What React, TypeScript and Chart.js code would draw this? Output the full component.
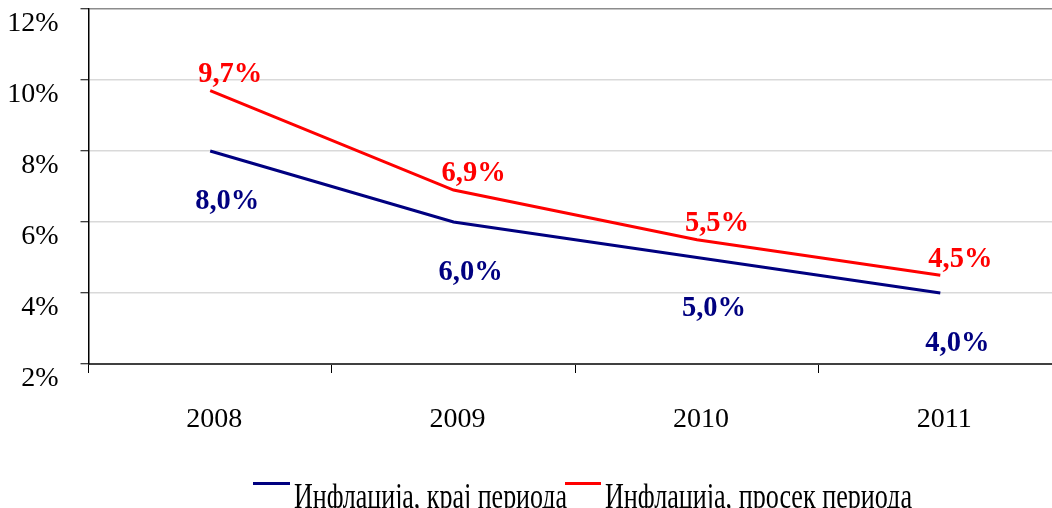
import React, { useEffect, useRef } from "react";
import { Chart, registerables } from "chart.js";

Chart.register(...registerables);

const categories = ["2008", "2009", "2010", "2011"];
const endOfPeriod = [8.0, 6.0, 5.0, 4.0];
const averageOfPeriod = [9.7, 6.9, 5.5, 4.5];
const yMin = 2;
const yMax = 12;
const yStep = 2;
const seriesNames = ["Инфлација, крај периода", "Инфлација, просек периода"];

const NAVY = "#000080";
const RED = "#ff0000";
const SERIF = '"Liberation Serif", "Times New Roman", serif';

const fmt = (v: number) => v.toFixed(1).replace(".", ",") + "%";

const dataLabelPlugin = {
  id: "dataLabels",
  afterDatasetsDraw(chart: any) {
    const ctx = chart.ctx;
    const offsets = [
      { dx: 17, dy: 51 },
      { dx: 20, dy: -16 },
    ];
    chart.data.datasets.forEach((ds: any, i: number) => {
      const meta = chart.getDatasetMeta(i);
      ctx.save();
      ctx.font = `bold 28.5px ${SERIF}`;
      ctx.fillStyle = ds.borderColor;
      ctx.textAlign = "center";
      ctx.textBaseline = "middle";
      meta.data.forEach((pt: any, j: number) => {
        ctx.fillText(fmt(ds.data[j]), pt.x + offsets[i].dx, pt.y + offsets[i].dy);
      });
      ctx.restore();
    });
  },
};

const legendPlugin = {
  id: "customLegend",
  afterDraw(chart: any) {
    const ctx = chart.ctx;
    const items = [
      { x0: 253, x1: 290, tx: 294, w: 273 },
      { x0: 565, x1: 601, tx: 605, w: 307 },
    ];
    const lineY = 483.5;
    const baseline = 507.5;
    chart.data.datasets.forEach((ds: any, i: number) => {
      const it = items[i];
      ctx.save();
      ctx.strokeStyle = ds.borderColor;
      ctx.lineWidth = 3;
      ctx.beginPath();
      ctx.moveTo(it.x0, lineY);
      ctx.lineTo(it.x1, lineY);
      ctx.stroke();
      ctx.font = `36px ${SERIF}`;
      ctx.fillStyle = "#000";
      ctx.textAlign = "left";
      ctx.textBaseline = "alphabetic";
      const w = ctx.measureText(ds.label).width;
      const sx = it.w / w;
      ctx.translate(it.tx, baseline);
      ctx.scale(sx, 1);
      ctx.fillText(ds.label, 0, 0);
      ctx.restore();
    });
  },
};

export default function App() {
  const ref = useRef<HTMLCanvasElement>(null);

  useEffect(() => {
    if (!ref.current) return;
    const chart = new Chart(ref.current, {
      type: "line",
      data: {
        labels: categories,
        datasets: [
          {
            label: seriesNames[0],
            data: endOfPeriod,
            borderColor: NAVY,
            backgroundColor: NAVY,
            borderWidth: 3,
            pointRadius: 0,
            tension: 0,
          },
          {
            label: seriesNames[1],
            data: averageOfPeriod,
            borderColor: RED,
            backgroundColor: RED,
            borderWidth: 3,
            pointRadius: 0,
            tension: 0,
          },
        ],
      },
      options: {
        responsive: false,
        animation: false,
        devicePixelRatio: 1,
        layout: { padding: { left: 0, right: 8, top: 9, bottom: 0 } },
        plugins: {
          legend: { display: false },
          tooltip: { enabled: false },
          title: { display: false },
        },
        scales: {
          x: {
            type: "category",
            offset: true,
            grid: {
              offset: true,
              drawOnChartArea: false,
              drawTicks: true,
              tickLength: 9,
              tickColor: "#000",
              tickWidth: 1,
            },
            border: { display: true, color: "#404040", width: 2 },
            ticks: {
              color: "#000",
              font: { family: SERIF, size: 28 },
              padding: 30,
              labelOffset: 4,
              maxRotation: 0,
            },
            afterFit(scale: any) {
              scale.height = 508 - 364;
              scale.paddingLeft = 0;
              scale.paddingRight = 0;
            },
          },
          y: {
            type: "linear",
            min: yMin,
            max: yMax,
            grid: {
              color: (c: any) => (c.tick && c.tick.value === yMax ? "#8c8c8c" : "#d9d9d9"),
              lineWidth: 1.5,
              drawTicks: true,
              tickLength: 8,
              tickColor: "#000",
              tickWidth: 1,
            },
            border: { display: true, color: "#000", width: 1.5 },
            ticks: {
              stepSize: yStep,
              color: "#000",
              font: { family: SERIF, size: 28 },
              padding: 22,
              labelOffset: 15,
              callback: (v: any) => v + "%",
            },
            afterFit(scale: any) {
              scale.width = 88.5;
              scale.paddingTop = 0;
              scale.paddingBottom = 0;
            },
          },
        },
      },
      plugins: [dataLabelPlugin, legendPlugin],
    });
    return () => chart.destroy();
  }, []);

  return (
    <div
      style={{
        position: "fixed",
        left: 0,
        top: 0,
        width: 1052,
        height: 508,
        overflow: "hidden",
        background: "#fff",
      }}
    >
      <canvas ref={ref} width={1070} height={508} style={{ display: "block" }} />
    </div>
  );
}
